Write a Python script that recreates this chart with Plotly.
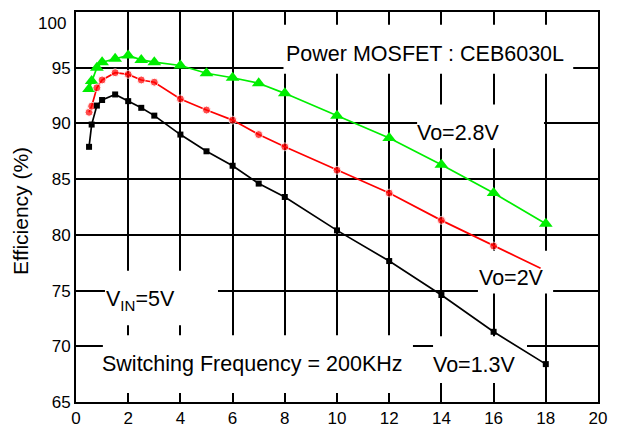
import plotly.graph_objects as go

# Output current (A) and efficiency (%)
x_vals = [0.5, 0.6, 0.8, 1, 1.5, 2, 2.5, 3, 4, 5, 6, 7, 8, 10, 12, 14, 16, 18]
eff_28 = [93.1, 93.8, 95.0, 95.5, 95.8, 96.1, 95.7, 95.5, 95.2, 94.5, 94.1, 93.6,
          92.7, 90.7, 88.7, 86.3, 83.75, 81.0]
x_20 = [0.5, 0.6, 0.8, 1, 1.5, 2, 2.5, 3, 4, 5, 6, 7, 8, 10, 12, 14, 16, 17.8]
eff_20 = [91.0, 91.55, 93.2, 93.9, 94.55, 94.4, 93.9, 93.7, 92.2, 91.2, 90.3, 89.0,
          87.9, 85.8, 83.75, 81.3, 79.0, 77.0]
eff_13 = [87.9, 89.9, 91.6, 92.1, 92.6, 92.0, 91.4, 90.7, 89.0, 87.5, 86.2, 84.6,
          83.4, 80.4, 77.65, 74.6, 71.3, 68.4]

x_ticks = [0, 2, 4, 6, 8, 10, 12, 14, 16, 18, 20]
y_ticks = [65, 70, 75, 80, 85, 90, 95]

FONT = "Liberation Sans, Arial, sans-serif"

fig = go.Figure()
fig.add_trace(go.Scatter(
    x=x_vals, y=eff_28, mode="lines+markers", name="Vo=2.8V",
    line=dict(color="#00ee00", width=1.7),
    marker=dict(symbol="triangle-up", size=12, color="#00ee00"),
))
fig.add_trace(go.Scatter(
    x=x_20, y=eff_20, mode="lines+markers", name="Vo=2V",
    line=dict(color="#ff0000", width=1.7),
    marker=dict(symbol="circle", size=[8] * (len(x_20) - 1) + [0], color="#ff0000"),
))
fig.add_trace(go.Scatter(
    x=x_vals, y=eff_13, mode="lines+markers", name="Vo=1.3V",
    line=dict(color="#000000", width=1.7),
    marker=dict(symbol="square", size=6, color="#000000"),
))

# white boxes that blank the grid behind the labels (traces stay on top)
boxes = [
    (7.95, 19.05, 94.45, 98.85),
    (13.07, 17.93, 87.77, 91.70),
    (15.40, 18.28, 74.73, 78.57),
    (13.68, 17.28, 66.70, 70.89),
    (1.03, 12.91, 65.80, 70.98),
    (1.11, 5.44, 71.88, 76.79),
]
for x0, x1, y0, y1 in boxes:
    fig.add_shape(type="rect", xref="x", yref="y", x0=x0, x1=x1, y0=y0, y1=y1,
                  fillcolor="white", line=dict(width=0), layer="between")

labels = [
    ("Power MOSFET : CEB6030L", 8.08, 96.2),
    ("Vo=2.8V", 13.10, 89.15),
    ("Vo=2V", 15.48, 76.12),
    ("Vo=1.3V", 13.72, 68.30),
    ("Switching Frequency = 200KHz", 1.03, 68.39),
    ("V<sub>IN</sub>=5V", 1.19, 74.15),
]
for text, x, y in labels:
    fig.add_annotation(text=text, x=x, y=y, xref="x", yref="y", xanchor="left",
                       yanchor="middle", showarrow=False, xshift=-3,
                       font=dict(family=FONT, size=21.5, color="black"))

# "100" label sits a bit below the top frame in the original
fig.add_annotation(text="100", x=0, y=(392 - 12) / 392, xref="paper", yref="paper",
                   xanchor="right", yanchor="middle", showarrow=False, xshift=-8,
                   font=dict(family=FONT, size=17, color="black"))
fig.add_annotation(text="Efficiency (%)", x=-55 / 522, y=0.49, xref="paper", yref="paper",
                   xanchor="center", yanchor="middle", textangle=-90, showarrow=False,
                   font=dict(family=FONT, size=21, color="black"))

axis_common = dict(
    showline=True, linecolor="black", linewidth=2, mirror=True,
    showgrid=True, gridcolor="black", gridwidth=2,
    zeroline=False, ticks="", tickfont=dict(family=FONT, size=17, color="black"),
)
fig.update_xaxes(range=[0, 20], tickvals=x_ticks, **axis_common)
fig.update_yaxes(range=[65, 100], tickvals=y_ticks, **axis_common)

# page body adds an 8px margin, so the figure is drawn 8px smaller
fig.update_layout(
    width=612, height=424,
    margin=dict(l=68, r=22, t=2, b=30),
    paper_bgcolor="white", plot_bgcolor="white",
    showlegend=False,
    font=dict(family=FONT, color="black"),
)

fig.write_html("out.html")
